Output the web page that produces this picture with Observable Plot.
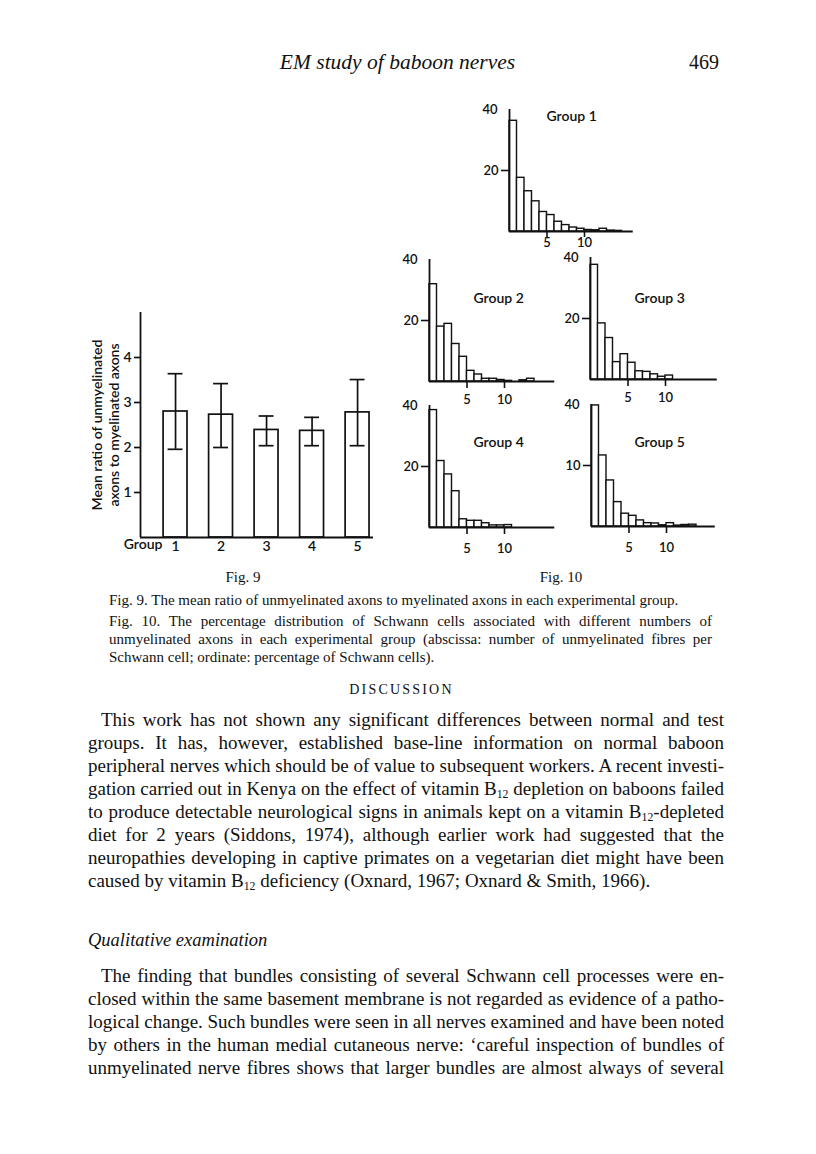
<!DOCTYPE html>
<html>
<head>
<meta charset="utf-8">
<script src="https://cdn.jsdelivr.net/npm/d3@7"></script>
<script src="https://cdn.jsdelivr.net/npm/@observablehq/plot@0.6"></script>
<style>
  html, body { margin: 0; padding: 0; background: #fff; }
  #page { position: relative; width: 816px; height: 1154px; background: #fff; color: #111; overflow: hidden; }
  .abs { position: absolute; }
  .serif { font-family: "Liberation Serif", "DejaVu Serif", serif; }
  .line { white-space: nowrap; }
  .just { text-align: justify; text-align-last: justify; white-space: normal; word-spacing: -2px; }
  sub { font-size: 0.62em; line-height: 0; vertical-align: -0.25em; }
  .panel svg { overflow: visible; background: transparent; }
</style>
</head>
<body>
<div id="page">
  <div class="abs serif" style="left:0;width:795px;top:50px;font-size:21.5px;line-height:24px;text-align:center;font-style:italic;">EM study of baboon nerves</div>
  <div class="abs serif" style="left:689px;top:50px;font-size:20px;line-height:24px;">469</div>

  <div id="fig9" class="abs panel" style="left:80px;top:302px;"></div>
  <div id="g1" class="abs panel"></div>
  <div id="g2" class="abs panel"></div>
  <div id="g3" class="abs panel"></div>
  <div id="g4" class="abs panel"></div>
  <div id="g5" class="abs panel"></div>

  <div class="abs serif" style="left:193px;width:100px;top:568px;font-size:15px;line-height:18px;text-align:center;">Fig. 9</div>
  <div class="abs serif" style="left:511px;width:100px;top:568px;font-size:15px;line-height:18px;text-align:center;">Fig. 10</div>

  <div class="abs serif" style="left:109px;width:603px;top:591px;font-size:15px;line-height:18px;">
    <div class="line">Fig. 9. The mean ratio of unmyelinated axons to myelinated axons in each experimental group.</div>
  </div>
  <div class="abs serif" style="left:109px;width:603px;top:612px;font-size:15px;line-height:18px;">
    <div class="just">Fig. 10. The percentage distribution of Schwann cells associated with different numbers of</div>
    <div class="just">unmyelinated axons in each experimental group (abscissa: number of unmyelinated fibres per</div>
    <div class="line">Schwann cell; ordinate: percentage of Schwann cells).</div>
  </div>

  <div class="abs serif" style="left:4px;width:795px;top:681px;font-size:14px;line-height:18px;letter-spacing:2.2px;text-align:center;">DISCUSSION</div>

  <div class="abs serif" style="left:88px;width:636px;top:707.5px;font-size:19px;line-height:23px;">
    <div class="just" style="padding-left:13px;">This work has not shown any significant differences between normal and test</div>
    <div class="just">groups. It has, however, established base-line information on normal baboon</div>
    <div class="just">peripheral nerves which should be of value to subsequent workers. A recent investi-</div>
    <div class="just">gation carried out in Kenya on the effect of vitamin B<sub>12</sub> depletion on baboons failed</div>
    <div class="just">to produce detectable neurological signs in animals kept on a vitamin B<sub>12</sub>-depleted</div>
    <div class="just">diet for 2 years (Siddons, 1974), although earlier work had suggested that the</div>
    <div class="just">neuropathies developing in captive primates on a vegetarian diet might have been</div>
    <div class="line">caused by vitamin B<sub>12</sub> deficiency (Oxnard, 1967; Oxnard &amp; Smith, 1966).</div>
  </div>

  <div class="abs serif" style="left:88px;top:928.5px;font-size:18.5px;line-height:23px;font-style:italic;">Qualitative examination</div>

  <div class="abs serif" style="left:88px;width:636px;top:963.5px;font-size:19px;line-height:23px;">
    <div class="just" style="padding-left:13px;">The finding that bundles consisting of several Schwann cell processes were en-</div>
    <div class="just">closed within the same basement membrane is not regarded as evidence of a patho-</div>
    <div class="just">logical change. Such bundles were seen in all nerves examined and have been noted</div>
    <div class="just">by others in the human medial cutaneous nerve: ‘careful inspection of bundles of</div>
    <div class="just">unmyelinated nerve fibres shows that larger bundles are almost always of several</div>
  </div>
</div>

<script>
// ---------- Fig. 9 data ----------
const groups = [1, 2, 3, 4, 5];
const meanRatio = [2.80, 2.73, 2.39, 2.37, 2.78];
const errorHigh = [3.64, 3.42, 2.70, 2.67, 3.51];
const errorLow = [1.96, 2.00, 2.04, 2.04, 2.04];
const ratioTicks = [1, 2, 3, 4];
const ratioLabel = "Mean ratio of unmyelinated\naxons to myelinated axons";
const groupAxisLabel = "Group";

// ---------- Fig. 10 data (percentage of Schwann cells per number of fibres) ----------
const group1Pct = [36.3, 17.6, 13.2, 9.9, 6.4, 5.4, 3.2, 2.1, 1.3, 0.9, 0.5, 0.4, 0.9, 0.3, 0.2, 0];
const group2Pct = [31.9, 18.0, 18.9, 12.3, 8.1, 3.5, 2.3, 0.9, 0.9, 0.5, 0.2, 0, 0.4, 0.9, 0, 0];
const group3Pct = [37.6, 18.4, 13.6, 5.7, 8.3, 5.5, 2.7, 2.5, 1.7, 0.9, 1.3, 0, 0, 0, 0, 0];
const group4Pct = [38.5, 21.8, 17.4, 11.9, 2.7, 2.2, 2.2, 1.4, 0.7, 0.7, 0.8, 0, 0, 0, 0, 0];
const group5Pct = [39.7, 23.3, 15.1, 8.0, 4.2, 3.5, 2.0, 1.1, 1.0, 0.4, 1.1, 0.3, 0.5, 0.6, 0, 0];
const groupNames = ["Group 1", "Group 2", "Group 3", "Group 4", "Group 5"];
const fibreTicks = [5, 10];
const pctTicks = [20, 40];
const pctTickLabels = [
  ["20", "40"], ["20", "40"], ["20", "40"], ["20", "40"], ["10", "40"]
];

const ink = "#111";
const fontStyle = {fontFamily: "Lato, 'Open Sans', sans-serif", fontSize: "14px", color: ink, background: "transparent", overflow: "visible"};

// ---------- Fig. 9 ----------
const rows = groups.map((g, i) => ({group: g, mean: meanRatio[i], high: errorHigh[i], low: errorLow[i]}));
const xDom = [0.23, 5.35];
const fig9 = Plot.plot({
  width: 303, height: 265,
  marginLeft: 60, marginRight: 10, marginTop: 10, marginBottom: 30,
  x: {domain: xDom, axis: null},
  y: {domain: [0, 5], axis: null},
  style: fontStyle,
  marks: [
    Plot.rectY(rows, {x1: d => d.group - 0.5, x2: d => d.group + 0.5, y: "mean", insetLeft: 10.8, insetRight: 10.8, fill: "white", stroke: ink, strokeWidth: 1.7}),
    Plot.ruleX(rows, {x: "group", y1: "low", y2: "high", stroke: ink, strokeWidth: 1.7}),
    Plot.ruleY(rows, {x1: d => d.group - 0.5, x2: d => d.group + 0.5, y: "high", insetLeft: 15.3, insetRight: 15.3, stroke: ink, strokeWidth: 1.7}),
    Plot.ruleY(rows, {x1: d => d.group - 0.5, x2: d => d.group + 0.5, y: "low", insetLeft: 15.3, insetRight: 15.3, stroke: ink, strokeWidth: 1.7}),
    Plot.ruleY([0], {stroke: ink, strokeWidth: 1.8}),
    Plot.ruleX([xDom[0]], {y1: 0, y2: 5, stroke: ink, strokeWidth: 1.8}),
    Plot.axisY(ratioTicks, {label: null, tickSize: 6, tickPadding: 3, strokeWidth: 1.7, fontSize: 14, fontWeight: 600}),
    Plot.axisX(groups, {label: null, tickSize: 0, tickPadding: 4, fontSize: 14, fontWeight: 600}),
    Plot.text([groupAxisLabel], {frameAnchor: "bottom-left", dx: 22, dy: 11, textAnchor: "end", fontSize: 14, fontWeight: 600}),
    Plot.text([ratioLabel], {frameAnchor: "left", rotate: -90, dx: -35, textAnchor: "middle", lineHeight: 1.2, fontSize: 14, fontWeight: 600})
  ]
});
document.getElementById("fig9").appendChild(fig9);

// ---------- Fig. 10 panels ----------
const xUnit = 7.5, yHeight = 122, mL = 34, mT = 10, mR = 6, mB = 30;
const panels = [
  {id: "g1", pct: group1Pct, axisX: 508.7, top40: 109.3, extent: 16.5, tickSize: 6, tickPad: 0, lx: 37, ly: 2},
  {id: "g2", pct: group2Pct, axisX: 428.7, top40: 258.7, extent: 16.7, tickSize: 7, tickPad: 6, lx: 44, ly: 34},
  {id: "g3", pct: group3Pct, axisX: 590.0, top40: 256.7, extent: 16.9, tickSize: 7, tickPad: 6, lx: 44, ly: 36},
  {id: "g4", pct: group4Pct, axisX: 428.7, top40: 405.4, extent: 16.7, tickSize: 7, tickPad: 9, lx: 44, ly: 32},
  {id: "g5", pct: group5Pct, axisX: 590.7, top40: 404.0, extent: 16.5, tickSize: 7, tickPad: 9, lx: 43, ly: 33}
];

panels.forEach((p, k) => {
  const bins = p.pct.map((v, i) => ({x1: i, x2: i + 1, pct: v}));
  const labels = pctTickLabels[k];
  const chart = Plot.plot({
    width: mL + xUnit * p.extent + mR,
    height: mT + yHeight + mB,
    marginLeft: mL, marginRight: mR, marginTop: mT, marginBottom: mB,
    x: {domain: [0, p.extent], axis: null},
    y: {domain: [0, 40], axis: null},
    style: fontStyle,
    marks: [
      Plot.rectY(bins, {x1: "x1", x2: "x2", y: "pct", fill: "white", stroke: ink, strokeWidth: 1.4}),
      Plot.ruleY([0], {stroke: ink, strokeWidth: 1.8}),
      Plot.ruleX([0], {y1: 0, y2: 40, stroke: ink, strokeWidth: 1.8}),
      Plot.axisY([pctTicks[0]], {label: null, tickSize: 8, tickPadding: 3, strokeWidth: 1.6, fontSize: 13, fontWeight: 600, tickFormat: d => labels[pctTicks.indexOf(d)]}),
      Plot.axisY([pctTicks[1]], {label: null, tickSize: 0, tickPadding: 12, fontSize: 13, fontWeight: 600, tickFormat: d => labels[pctTicks.indexOf(d)]}),
      Plot.axisX(fibreTicks, {label: null, tickSize: p.tickSize, tickPadding: p.tickPad, strokeWidth: 1.6, fontSize: 13, fontWeight: 600}),
      Plot.text([groupNames[k]], {frameAnchor: "top-left", dx: p.lx, dy: p.ly, textAnchor: "start", fontSize: 14, fontWeight: 600})
    ]
  });
  const holder = document.getElementById(p.id);
  holder.style.left = (p.axisX - mL) + "px";
  holder.style.top = (p.top40 - mT) + "px";
  holder.appendChild(chart);
});
</script>
</body>
</html>
